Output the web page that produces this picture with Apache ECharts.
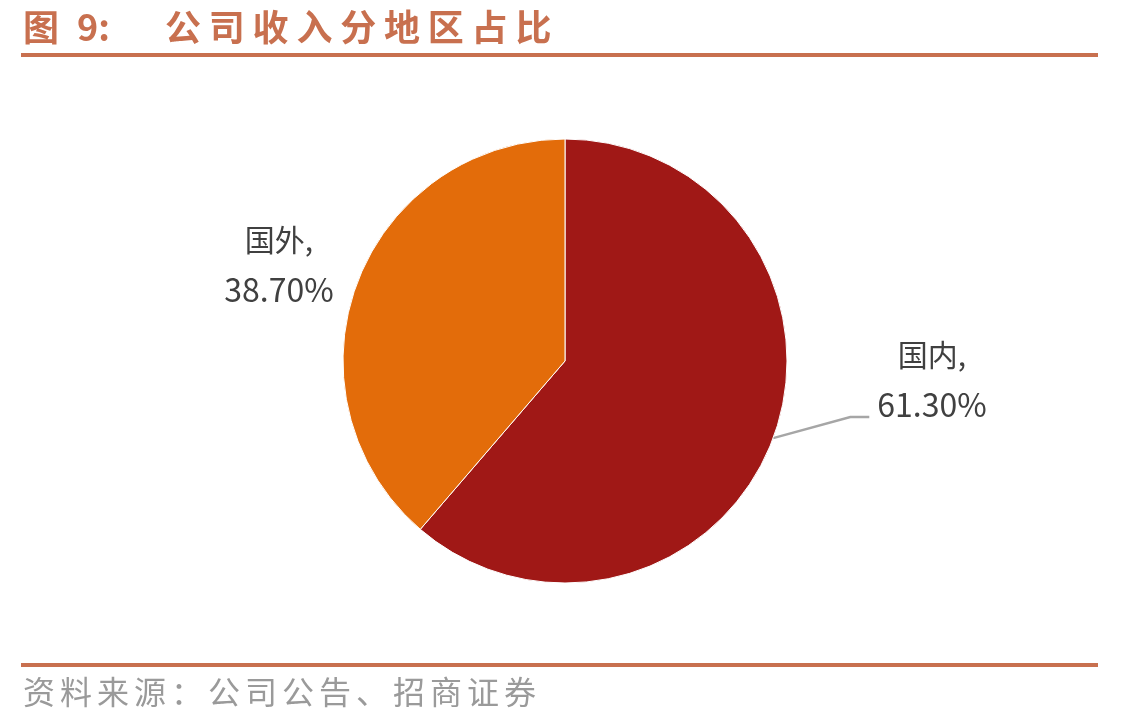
<!DOCTYPE html>
<html lang="zh">
<head>
    <meta charset="UTF-8">
    <title>公司收入分地区占比</title>
    <script src="https://cdn.jsdelivr.net/npm/echarts@6/dist/echarts.min.js"></script>
    <style>
        body { margin: 0; background: #fff; }
    </style>
</head>
<body>
    <div id="main" style="width:1144px;height:725px;"></div>
<script type="text/javascript">

    // 数据
    var regions = ['国内', '国外'];
    var shares = [61.30, 38.70];
    var colors = ['#A01816', '#E36C0A'];
    // 标签位置（文字中心）
    var labelPos = [[932, 380], [279, 265]];

    var titleColor = '#C8704F';
    var myChart = echarts.init(document.getElementById('main'));

    // 逐字排版（模拟字间距）
    function spacedText(str, x0, step, cy, font, color) {
        var out = [];
        for (var i = 0; i < str.length; i++) {
            out.push({
                type: 'text', x: x0 + i * step, y: cy,
                style: { text: str[i], fill: color, font: font, verticalAlign: 'middle' }
            });
        }
        return out;
    }

    var graphics = [
        {
            type: 'text', x: 23, y: 27,
            style: { text: '图', fill: titleColor, font: 'bold 36px "Noto Sans CJK SC"', verticalAlign: 'middle' }
        },
        {
            type: 'text', x: 77, y: 27,
            style: { text: '9:', fill: titleColor, font: 'bold 36px "Noto Sans CJK SC"', verticalAlign: 'middle' }
        },
        { type: 'rect', shape: { x: 21, y: 53, width: 1077, height: 4 }, style: { fill: titleColor } },
        { type: 'rect', shape: { x: 21, y: 663, width: 1077, height: 4 }, style: { fill: titleColor } }
    ];
    graphics = graphics.concat(spacedText('公司收入分地区占比', 165, 43.8, 27, 'bold 36px "Noto Sans CJK SC"', titleColor));
    graphics = graphics.concat(spacedText('资料来源：公司公告、招商证券', 23, 37, 692, '32px "Noto Sans CJK SC"', '#9A9A9A'));

    var pieData = [];
    for (var i = 0; i < regions.length; i++) {
        pieData.push({
            name: regions[i],
            value: shares[i],
            itemStyle: { color: colors[i] },
            labelLine: { show: i === 0 }
        });
    }

    var option = {
        animation: false,
        textStyle: { fontFamily: 'Noto Sans CJK SC' },
        graphic: graphics,
        series: [{
            type: 'pie',
            center: [565, 361],
            radius: [0, 222],
            startAngle: 90,
            clockwise: true,
            data: pieData,
            itemStyle: { borderColor: '#fff', borderWidth: 1 },
            label: {
                show: true,
                formatter: function (p) {
                    return '{c|' + p.name + ',}\n{n|' + p.value.toFixed(2) + '%}';
                },
                align: 'center',
                rich: {
                    c: { fontSize: 30, lineHeight: 50, color: '#404040', fontFamily: 'Noto Sans CJK SC' },
                    n: { fontSize: 32, lineHeight: 50, color: '#404040', fontFamily: 'Noto Sans CJK SC' }
                }
            },
            labelLine: {
                show: true,
                length: 40,
                length2: 30,
                lineStyle: { color: '#A6A6A6', width: 2.5 }
            },
            labelLayout: function (params) {
                var p = labelPos[params.dataIndex];
                var res = { x: p[0], y: p[1], align: 'center', verticalAlign: 'middle' };
                if (params.dataIndex === 0 && params.labelLinePoints) {
                    var left = p[0] - params.labelRect.width / 2;
                    var ly = p[1] + 37;
                    res.labelLinePoints = [
                        params.labelLinePoints[0],
                        [left - 27, ly],
                        [left - 8, ly]
                    ];
                }
                return res;
            }
        }]
    };
    myChart.setOption(option);

</script>
</body>
</html>
